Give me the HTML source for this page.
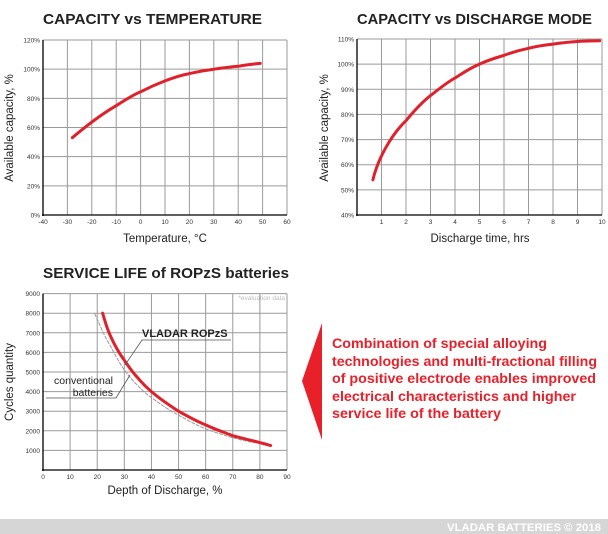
<!DOCTYPE html>
<html><head><meta charset="utf-8"><style>
body{margin:0;background:#fff;width:608px;height:534px;overflow:hidden;font-family:"Liberation Sans",Arial,sans-serif}
svg{position:absolute;left:0;top:0}
</style></head><body>
<svg id="s" width="608" height="534" viewBox="0 0 608 534" font-family="Liberation Sans, Arial, sans-serif">
<g id="grid" stroke="#9a9a9a" stroke-width="1" fill="none"></g>
<g id="lab" font-size="6.5" fill="#333"></g>
<text x="43" y="24" font-size="15" font-weight="bold" fill="#222" textLength="219" lengthAdjust="spacingAndGlyphs">CAPACITY vs TEMPERATURE</text>
<text x="357" y="24" font-size="15" font-weight="bold" fill="#222" textLength="235" lengthAdjust="spacingAndGlyphs">CAPACITY vs DISCHARGE MODE</text>
<text x="43" y="278" font-size="15" font-weight="bold" fill="#222" textLength="246" lengthAdjust="spacingAndGlyphs">SERVICE LIFE of ROPzS batteries</text>
<text x="165" y="242" font-size="11.5" text-anchor="middle" fill="#222">Temperature, °C</text>
<text x="480" y="242" font-size="11.5" text-anchor="middle" fill="#222">Discharge time, hrs</text>
<text x="165" y="494" font-size="11.5" text-anchor="middle" fill="#222">Depth of Discharge, %</text>
<text transform="translate(13,128) rotate(-90)" font-size="11.5" text-anchor="middle" fill="#222">Available capacity, %</text>
<text transform="translate(328,128) rotate(-90)" font-size="11.5" text-anchor="middle" fill="#222">Available capacity, %</text>
<text transform="translate(13,382) rotate(-90)" font-size="11.5" text-anchor="middle" fill="#222">Cycles quantity</text>
<text x="285" y="300" font-size="6.5" text-anchor="end" fill="#bbb">*evaluation data</text>
<path fill="none" stroke="#e0202a" stroke-width="3" stroke-linecap="round" d="M72.3,137.7 C85,127 100,115 116.2,105.7 C125,100 133,95 140.6,91.8 C150,87 157,84 165,80.9 C175,77 182,75 189.4,73.6 C200,71 207,70 213.8,69.2 C222,68 230,67 238.2,66.3 C246,65 253,64 260.2,63.4"/>
<path fill="none" stroke="#e0202a" stroke-width="3" stroke-linecap="round" d="M372.9,179.8 C378,158 392,134 406,120.7 C414,111 421,103 430.5,95.6 C439,89 446,83 455,78 C463,73 470,68 479.5,64.2 C488,60 495,58 504,55.4 C513,52 520,50 528.5,48.3 C537,46 545,45 553,44.1 C561,43 569,42 577.5,41.5 C585,41 592,41 599.6,40.8"/>
<path fill="none" stroke="#999" stroke-width="1" stroke-dasharray="4,1" d="M94.5,313.2 C100,325 104,336 110.8,346.5 C115,355 119,362 124.3,370 C129,376 133,381 137.9,385.7 C142,390 146,394 151.4,397.5 C160,404 169,410 178.5,415.1 C187,420 196,425 205.6,428.8 C214,432 223,435 232.7,437.7 C241,440 250,442 259.8,443.5"/>
<path fill="none" stroke="#e0202a" stroke-width="3" stroke-linecap="round" d="M102.6,313.2 C105,321 107,329 110.8,336.7 C115,346 119,353 124.3,360.2 C129,367 133,373 137.9,377.9 C142,383 146,387 151.4,391.6 C160,399 169,405 178.5,411.2 C187,416 196,421 205.6,424.9 C214,429 223,432 232.7,435.7 C241,438 250,440 259.8,442.6 C264,443.5 267,444.5 270.6,445.5"/>
<text x="142" y="337" font-size="11" font-weight="bold" fill="#222">VLADAR ROPzS</text>
<polyline fill="none" stroke="#555" stroke-width="0.8" points="231,340 142,340 125,365"/>
<text x="113" y="384" font-size="10.5" text-anchor="end" fill="#222">conventional</text>
<text x="113" y="396" font-size="10.5" text-anchor="end" fill="#222">batteries</text>
<polyline fill="none" stroke="#555" stroke-width="0.8" points="46,398 116,398 130,375"/>
<polygon points="302,381 322,323 322,440" fill="#e8202a"/>
<g font-size="14" font-weight="bold" fill="#e8202a">
<text x="332" y="348" textLength="215" lengthAdjust="spacingAndGlyphs">Combination of special alloying</text>
<text x="332" y="366" textLength="265" lengthAdjust="spacingAndGlyphs">technologies and multi-fractional filling</text>
<text x="332" y="383" textLength="264" lengthAdjust="spacingAndGlyphs">of positive electrode enables improved</text>
<text x="332" y="401" textLength="244" lengthAdjust="spacingAndGlyphs">electrical characteristics and higher</text>
<text x="332" y="418" textLength="169" lengthAdjust="spacingAndGlyphs">service life of the battery</text>
</g>
<rect x="0" y="519" width="608" height="15" fill="#d6d6d6"/>
<text x="447" y="531" font-size="11" font-weight="bold" fill="#fff" textLength="154" lengthAdjust="spacingAndGlyphs">VLADAR BATTERIES © 2018</text>
</svg>
<script>
var g=document.getElementById('grid'),L=document.getElementById('lab'),ns='http://www.w3.org/2000/svg';
function ln(x1,y1,x2,y2,c,w){var e=document.createElementNS(ns,'line');e.setAttribute('x1',x1);e.setAttribute('y1',y1);e.setAttribute('x2',x2);e.setAttribute('y2',y2);if(c)e.setAttribute('stroke',c);if(w)e.setAttribute('stroke-width',w);g.appendChild(e);}
function tx(x,y,s,a){var e=document.createElementNS(ns,'text');e.setAttribute('x',x);e.setAttribute('y',y);if(a)e.setAttribute('text-anchor',a);e.textContent=s;L.appendChild(e);}
function chart(x0,x1,y0,y1,nx,ny,xl,yl){
 for(var i=0;i<=nx;i++){var x=x0+(x1-x0)*i/nx;ln(x,y0,x,y1);if(xl[i]!=='')tx(x,y1+9,xl[i],'middle');}
 for(var j=0;j<=ny;j++){var y=y1-(y1-y0)*j/ny;ln(x0,y,x1,y);if(yl[j]!=='')tx(x0-3,y+2.5,yl[j],'end');}
 ln(x0,y0,x0,y1+1,'#000',1.3);ln(x0-1,y1,x1,y1,'#000',1.3);
}
chart(43,287,40,215,10,6,['-40','-30','-20','-10','0','10','20','30','40','50','60'],['0%','20%','40%','60%','80%','100%','120%']);
chart(357,602,39,215,10,7,['','1','2','3','4','5','6','7','8','9','10'],['40%','50%','60%','70%','80%','90%','100%','110%']);
chart(43,287,293.6,470,9,9,['0','10','20','30','40','50','60','70','80','90'],['','1000','2000','3000','4000','5000','6000','7000','8000','9000']);
</script>
</body></html>
